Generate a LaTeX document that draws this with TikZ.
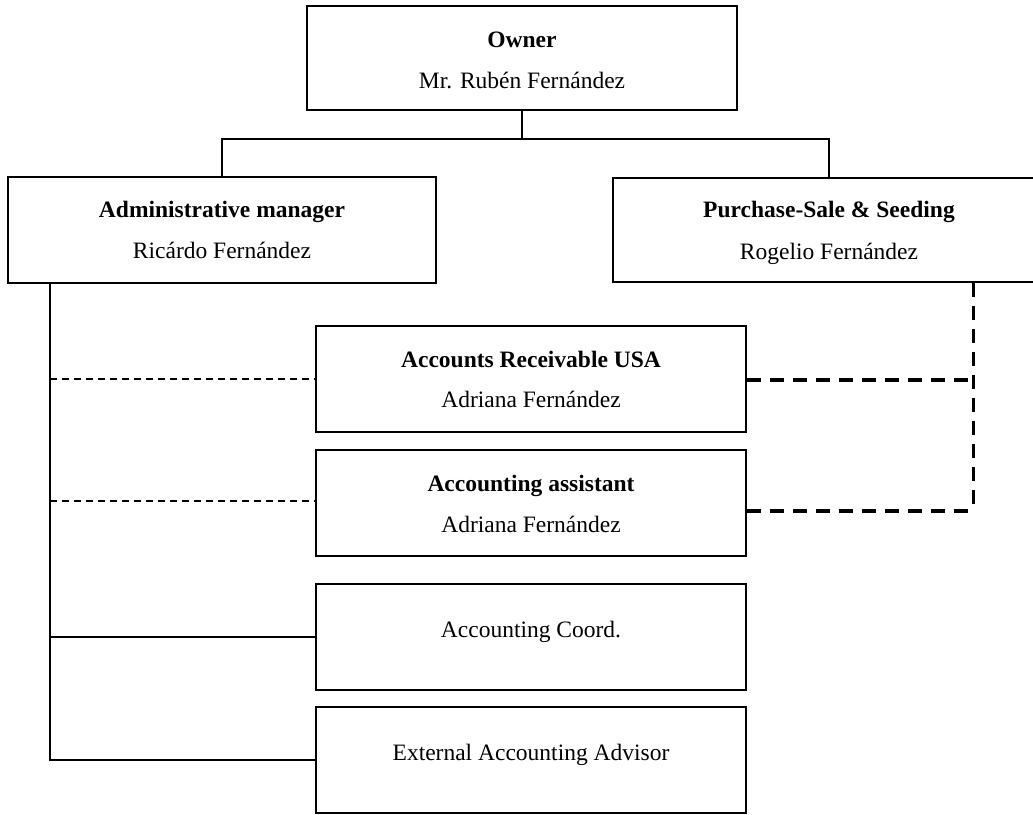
\documentclass[tikz,border=0pt]{standalone}
\usepackage{fontspec}
\setmainfont{Liberation Serif}
\begin{document}
\begin{tikzpicture}[x=1pt,y=1pt,
  box/.style={draw, line width=1.8pt, inner sep=0pt},
  lbl/.style={font=\fontsize{23.5}{28}\selectfont, inner sep=0pt, anchor=base},
  conn/.style={line width=1.5pt},
  thindash/.style={line width=1.5pt, dash pattern=on 7pt off 5pt},
  thickdash/.style={line width=3.2pt, dash pattern=on 14pt off 9pt}]
\useasboundingbox (0,0) rectangle (1033,-814);
\clip (0,0) rectangle (1033,-814);
% boxes
\node[box, minimum width=430pt, minimum height=104pt] (owner) at (522,-58) {};
\node[box, minimum width=428pt, minimum height=106pt] (admin) at (222,-230) {};
\node[box, minimum width=432pt, minimum height=104pt] (purch) at (829,-230) {};
\node[box, minimum width=430pt, minimum height=106pt] (ar) at (531,-379) {};
\node[box, minimum width=430pt, minimum height=106pt] (asst) at (531,-503) {};
\node[box, minimum width=430pt, minimum height=106pt] (coord) at (531,-637) {};
\node[box, minimum width=430pt, minimum height=106pt] (ext) at (531,-760) {};
% labels
\node[lbl] (ownerT) at (522,-47) {\textbf{Owner}};
\node[lbl] (ownerN) at (522,-88) {Mr. Rubén Fernández};
\node[lbl] (adminT) at (222,-217) {\textbf{Administrative manager}};
\node[lbl] (adminN) at (222,-258) {Ricárdo Fernández};
\node[lbl] (purchT) at (829,-217) {\textbf{Purchase-Sale \& Seeding}};
\node[lbl] (purchN) at (829,-259) {Rogelio Fernández};
\node[lbl] (arT) at (531,-367) {\textbf{Accounts Receivable USA}};
\node[lbl] (arN) at (531,-407) {Adriana Fernández};
\node[lbl] (asstT) at (531,-491) {\textbf{Accounting assistant}};
\node[lbl] (asstN) at (531,-532) {Adriana Fernández};
\node[lbl] (coordT) at (531,-637) {Accounting Coord.};
\node[lbl] (extT) at (531,-760) {External Accounting Advisor};
% connectors
\coordinate (bus) at (522,-139);
\draw[conn] (owner.south) -- (bus);
\draw[conn] (bus) -| (admin.north);
\draw[conn] (bus) -| (purch.north);
\coordinate (av) at ([xshift=43pt]admin.south west);
\draw[conn] (av) |- (ext.west);
\draw[conn] (av) |- (coord.west);
\draw[thindash] (ar.west -| av) -- (ar.west);
\draw[thindash] ([yshift=2pt]asst.west -| av) -- ([yshift=2pt]asst.west);
\coordinate (pv) at ([xshift=361pt]purch.south west);
\coordinate (pc) at ([yshift=-8pt]asst.east -| pv);
\draw[thickdash] (pv) -- (pc);
\draw[thickdash] ([yshift=-8pt]asst.east) -- (pc);
\draw[thickdash] ([yshift=-1pt]ar.east) -- ([yshift=-1pt]ar.east -| pv);
\end{tikzpicture}
\end{document}
